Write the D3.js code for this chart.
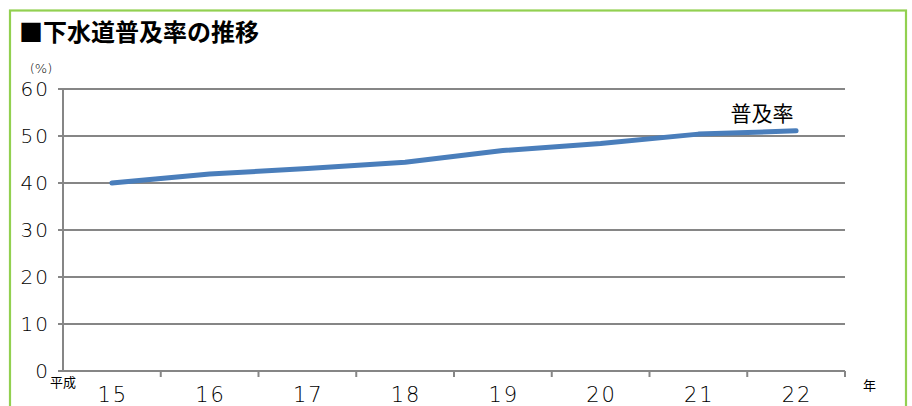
<!DOCTYPE html>
<html>
<head>
<meta charset="utf-8">
<script src="https://cdn.jsdelivr.net/npm/d3@7"></script>
<style>
  html, body { margin: 0; padding: 0; background: #fff; }
  svg { display: block; }
  text { font-family: "DejaVu Sans", "Noto Sans CJK JP", sans-serif; fill: #000; }
  .cjk { font-family: "Noto Sans CJK JP", sans-serif; }
</style>
</head>
<body>
<svg id="chart" width="912" height="406"></svg>
<script>
// Fiscal years (Heisei era) and sewer coverage rate (%)
const years = ["15", "16", "17", "18", "19", "20", "21", "22"];
const coverage = [40.0, 41.9, 43.1, 44.4, 46.9, 48.4, 50.4, 51.1];
const yTicks = [0, 10, 20, 30, 40, 50, 60];

const svg = d3.select("#chart");

// outer green frame
svg.append("rect")
  .attr("x", 10).attr("y", 10.5)
  .attr("width", 896).attr("height", 420)
  .attr("fill", "none")
  .attr("stroke", "#92d050")
  .attr("stroke-width", 2.2);

// title
svg.append("text")
  .attr("class", "cjk")
  .attr("x", 19).attr("y", 41)
  .attr("font-size", 24).attr("font-weight", 700)
  .text("■下水道普及率の推移");

const plotLeft = 63, plotRight = 845, plotTop = 89, plotBottom = 371;

const x = d3.scaleBand().domain(years).range([plotLeft, plotRight]).padding(0);
const y = d3.scaleLinear().domain([0, 60]).range([plotBottom, plotTop]);

// horizontal gridlines with short ticks left of the axis
svg.append("g").selectAll("line").data(yTicks).join("line")
  .attr("x1", plotLeft - 5).attr("x2", plotRight)
  .attr("y1", d => y(d)).attr("y2", d => y(d))
  .attr("stroke", "#868686").attr("stroke-width", 2);

// y-axis line
svg.append("line")
  .attr("x1", plotLeft).attr("x2", plotLeft)
  .attr("y1", plotTop).attr("y2", plotBottom)
  .attr("stroke", "#868686").attr("stroke-width", 2);

// category boundary ticks below the x-axis
const bounds = d3.range(1, years.length + 1).map(i => plotLeft + i * x.step());
svg.append("g").selectAll("line").data(bounds).join("line")
  .attr("x1", d => d).attr("x2", d => d)
  .attr("y1", plotBottom).attr("y2", plotBottom + 6)
  .attr("stroke", "#868686").attr("stroke-width", 2);

// y tick labels (trailing letter-spacing offset compensated)
svg.append("g").selectAll("text").data(yTicks).join("text")
  .attr("x", 50).attr("y", d => y(d) + 7)
  .attr("text-anchor", "end")
  .attr("font-size", 20).attr("font-weight", 200)
  .attr("letter-spacing", 2)
  .text(d => d);

// unit label
svg.append("text")
  .attr("x", 41).attr("y", 73)
  .attr("text-anchor", "middle")
  .attr("font-size", 13).attr("font-weight", 200)
  .text("(%)");

// x tick labels
svg.append("g").selectAll("text").data(years).join("text")
  .attr("x", d => x(d) + x.bandwidth() / 2 + 1).attr("y", 402)
  .attr("text-anchor", "middle")
  .attr("font-size", 21).attr("font-weight", 200)
  .attr("letter-spacing", 2)
  .text(d => d);

// era prefix and year suffix
svg.append("text").attr("class", "cjk")
  .attr("x", 50).attr("y", 387)
  .attr("font-size", 13)
  .text("平成");
svg.append("text").attr("class", "cjk")
  .attr("x", 863).attr("y", 390)
  .attr("font-size", 13)
  .text("年");

// coverage line
const line = d3.line()
  .x((d, i) => x(years[i]) + x.bandwidth() / 2)
  .y(d => y(d));
svg.append("path")
  .datum(coverage)
  .attr("d", line)
  .attr("fill", "none")
  .attr("stroke", "#4a7ebb")
  .attr("stroke-width", 5)
  .attr("stroke-linecap", "round")
  .attr("stroke-linejoin", "round");

// series label
svg.append("text").attr("class", "cjk")
  .attr("x", 762).attr("y", 121)
  .attr("text-anchor", "middle")
  .attr("font-size", 21)
  .text("普及率");
</script>
</body>
</html>
